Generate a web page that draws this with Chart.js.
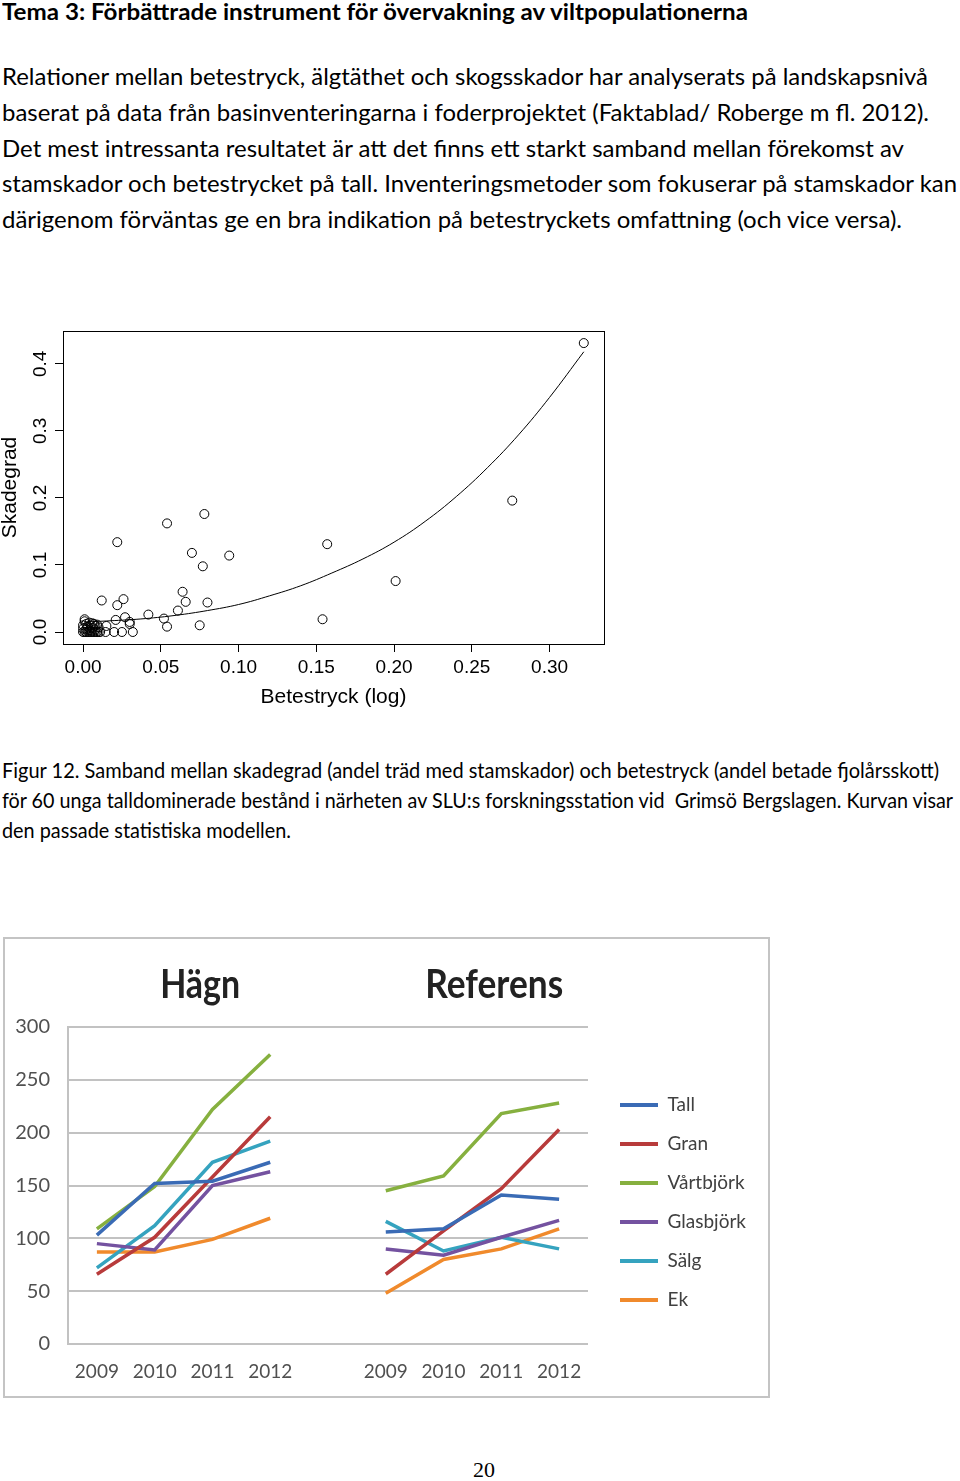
<!DOCTYPE html>
<html><head><meta charset="utf-8">
<script src="https://cdn.jsdelivr.net/npm/chart.js@4/dist/chart.umd.min.js"></script>
<style>
html,body{margin:0;padding:0;background:#fff;}
body{width:960px;height:1481px;position:relative;overflow:hidden;font-family:Lato,"Open Sans",sans-serif;color:#000;}
.ln{position:absolute;white-space:nowrap;line-height:1;transform-origin:0 50%;}
.t{font-weight:bold;font-size:22px;}
.b{font-size:24px;}
.c{font-size:21px;}
.h{font-weight:bold;font-size:40px;color:#222;transform-origin:50% 50%;}
#sc{position:absolute;left:0;top:320px;}
#frame{position:absolute;left:3px;top:937px;width:767px;height:461px;box-sizing:border-box;border:2px solid #c4c4c4;}
#lc{position:absolute;left:0;top:0;}
#pg{position:absolute;left:4px;width:960px;top:1459px;text-align:center;font-family:"Liberation Serif",serif;font-size:22px;line-height:1;}
</style></head><body>
<div class="ln t" style="left:2px;top:1px" data-w="746">Tema 3: Förbättrade instrument för övervakning av viltpopulationerna</div>
<div class="ln b" style="left:2px;top:64px" data-w="926">Relationer mellan betestryck, älgtäthet och skogsskador har analyserats på landskapsnivå</div>
<div class="ln b" style="left:2px;top:100px" data-w="927">baserat på data från basinventeringarna i foderprojektet (Faktablad/ Roberge m fl. 2012).</div>
<div class="ln b" style="left:2px;top:136px" data-w="902">Det mest intressanta resultatet är att det finns ett starkt samband mellan förekomst av</div>
<div class="ln b" style="left:2px;top:171px" data-w="955">stamskador och betestrycket på tall. Inventeringsmetoder som fokuserar på stamskador kan</div>
<div class="ln b" style="left:2px;top:207px" data-w="900">därigenom förväntas ge en bra indikation på betestryckets omfattning (och vice versa).</div>

<canvas id="sc" width="620" height="400"></canvas>

<div class="ln c" style="left:2px;top:759px" data-w="937">Figur 12. Samband mellan skadegrad (andel träd med stamskador) och betestryck (andel betade fjolårsskott)</div>
<div class="ln c" style="left:2px;top:789px" data-w="951">för 60 unga talldominerade bestånd i närheten av SLU:s forskningsstation vid&nbsp; Grimsö Bergslagen. Kurvan visar</div>
<div class="ln c" style="left:2px;top:819px" data-w="289">den passade statistiska modellen.</div>

<div id="frame"><canvas id="lc" width="763" height="457"></canvas></div>
<div class="ln h" data-cx="200" data-cy="985" data-w="80">Hägn</div>
<div class="ln h" data-cx="494" data-cy="985" data-w="138">Referens</div>

<div id="pg">20</div>

<script>
// ---------- Scatter chart data (Figur 12) ----------
const scatterX = [0.322,0.276,0.201,0.157,0.154,0.094,0.078,0.080,0.070,0.077,0.075,0.054,0.064,0.066,0.061,0.052,0.054,0.042,0.022,0.012,0.022,0.026,0.021,0.027,0.030,0.030,0.032,0.025,0.020,0.015,0.0145,
  0.000,0.001,0.002,0.003,0.004,0.005,0.006,0.007,0.008,0.009,0.010,0.011,
  0.000,0.001,0.001,0.002,0.003,0.004,0.005,0.006,0.007,0.008,0.009,0.010,0.000,0.002,0.004,0.006,0.008];
const scatterY = [0.431,0.196,0.076,0.131,0.019,0.114,0.176,0.044,0.118,0.098,0.010,0.162,0.060,0.045,0.032,0.020,0.008,0.026,0.134,0.047,0.040,0.049,0.018,0.022,0.015,0.012,0.000,0.000,0.000,0.009,0.000,
  0.000,0.000,0.000,0.000,0.000,0.000,0.000,0.000,0.000,0.000,0.000,0.000,
  0.005,0.019,0.016,0.012,0.008,0.014,0.010,0.006,0.012,0.009,0.011,0.007,0.010,0.004,0.003,0.013,0.004];
const curveX = [0.001,0.02,0.04,0.06,0.08,0.10,0.12,0.14,0.16,0.18,0.20,0.22,0.24,0.26,0.28,0.30,0.322];
const curveY = [0.015,0.017,0.020,0.025,0.032,0.041,0.054,0.069,0.088,0.109,0.134,0.165,0.202,0.245,0.294,0.350,0.418];
const xTickVals = [0,0.05,0.10,0.15,0.20,0.25,0.30];
const xTickLabels = ['0.00','0.05','0.10','0.15','0.20','0.25','0.30'];
const yTickVals = [0,0.1,0.2,0.3,0.4];
const yTickLabels = ['0.0','0.1','0.2','0.3','0.4'];

// ---------- Line chart data (Hägn / Referens) ----------
const years = ['2009','2010','2011','2012'];
const seriesNames = ['Tall','Gran','Vårtbjörk','Glasbjörk','Sälg','Ek'];
const tallHagn = [103,152,154,172],     tallRef = [106,109,141,137];
const granHagn = [66,101,158,215],      granRef = [66,107,147,203];
const vartHagn = [109,149,222,274],     vartRef = [145,159,218,228];
const glasHagn = [95,89,150,163],       glasRef = [90,84,101,117];
const salgHagn = [72,112,172,192],      salgRef = [116,88,101,90];
const ekHagn = [87,87,99,119],          ekRef = [48,80,90,109];
const yTicksLine = [0,50,100,150,200,250,300];
const seriesColors = ['#3a6bb5','#b83b3b','#86b03f','#7452a0','#35a3bf','#f08a2c'];

const categories = [...years, '', ...years];
const joinPanels = (h, r) => [...h, null, ...r];
const lineSeries = [
  joinPanels(tallHagn, tallRef), joinPanels(granHagn, granRef), joinPanels(vartHagn, vartRef),
  joinPanels(glasHagn, glasRef), joinPanels(salgHagn, salgRef), joinPanels(ekHagn, ekRef)
];

// ---------- Scatter chart ----------
const boxPlugin = {
  id:'box',
  afterDraw(chart){
    const {ctx, chartArea:a} = chart;
    ctx.save(); ctx.strokeStyle='#000'; ctx.lineWidth=1;
    ctx.strokeRect(Math.round(a.left)+0.5, Math.round(a.top)+0.5, Math.round(a.right-a.left), Math.round(a.bottom-a.top));
    const ys = chart.scales.y;
    ctx.fillStyle='#000'; ctx.font='19px "Liberation Sans", Arial, sans-serif';
    ctx.textAlign='center'; ctx.textBaseline='middle';
    yTickVals.forEach((v,i)=>{
      const py = ys.getPixelForValue(v);
      ctx.save(); ctx.translate(a.left-22, py); ctx.rotate(-Math.PI/2);
      ctx.fillText(yTickLabels[i], 0, 0); ctx.restore();
    });
    ctx.restore();
  }
};
new Chart(document.getElementById('sc'), {
  type:'scatter',
  data:{datasets:[
    {data: scatterX.map((x,i)=>({x, y:scatterY[i]})), pointStyle:'circle', pointRadius:4.5, borderColor:'#000', borderWidth:1, backgroundColor:'rgba(0,0,0,0)', showLine:false},
    {data: curveX.map((x,i)=>({x, y:curveY[i]})), showLine:true, pointRadius:0, borderColor:'#000', borderWidth:1, tension:0.4, fill:false}
  ]},
  options:{
    responsive:false, animation:false, events:[],
    layout:{padding:{top:11,right:16,left:0,bottom:0}},
    plugins:{legend:{display:false}, tooltip:{enabled:false}},
    scales:{
      x:{type:'linear', min:-0.0129, max:0.335,
         afterBuildTicks: s=>{ s.ticks = xTickVals.map(v=>({value:v})); },
         afterFit: s=>{ s.height = 76; },
         grid:{drawOnChartArea:false, drawTicks:true, tickLength:8, color:'#000', lineWidth:1},
         border:{display:false},
         ticks:{callback:(v,i)=>xTickLabels[i], font:{family:'"Liberation Sans", Arial', size:19}, color:'#000', padding:4, maxRotation:0, minRotation:0, autoSkip:false},
         title:{display:true, text:'Betestryck (log)', font:{family:'"Liberation Sans", Arial', size:21}, color:'#000', padding:{top:0,bottom:10}}
      },
      y:{type:'linear', min:-0.0179, max:0.449,
         afterBuildTicks: s=>{ s.ticks = yTickVals.map(v=>({value:v})); },
         afterFit: s=>{ s.width = 63; },
         grid:{drawOnChartArea:false, drawTicks:true, tickLength:8, color:'#000', lineWidth:1},
         border:{display:false},
         ticks:{display:false},
         title:{display:true, text:'Skadegrad', font:{family:'"Liberation Sans", Arial', size:21, lineHeight:1}, color:'#000', padding:0}
      }
    }
  },
  plugins:[boxPlugin]
});

// ---------- Line chart ----------
const legendPlace = {
  id:'legendPlace',
  beforeLayout(chart){
    const lg = chart.legend;
    if (lg && !lg._fixedW){
      const f = lg.fit;
      lg.fit = function(){ f.call(this); this.width = 180; };
      lg._fixedW = true;
    }
  },
  afterLayout(chart){
    const lg = chart.legend;
    if (lg){ lg.left += 12; lg.right += 12; lg.top -= 9; lg.bottom -= 9; }
  }
};
new Chart(document.getElementById('lc'), {
  type:'line',
  data:{labels:categories, datasets: seriesNames.map((n,i)=>({
    label:n, data:lineSeries[i], borderColor:seriesColors[i], backgroundColor:seriesColors[i],
    borderWidth:3.5, pointRadius:0, tension:0, spanGaps:false, fill:false
  }))},
  options:{
    responsive:false, animation:false, events:[],
    layout:{padding:{top:88,left:0,right:0,bottom:0}},
    plugins:{
      tooltip:{enabled:false},
      legend:{position:'right', align:'center',
        labels:{boxWidth:38, boxHeight:4, padding:20, color:'#404040', font:{family:'Lato', size:19},
          generateLabels:(chart)=>Chart.defaults.plugins.legend.labels.generateLabels(chart).map(l=>({...l, lineWidth:0}))}
      }
    },
    scales:{
      x:{offset:true, grid:{display:false}, border:{display:false},
         afterFit: s=>{ s.height = 52; },
         ticks:{color:'#505050', font:{family:'Lato', size:19}, padding:8, maxRotation:0, minRotation:0, autoSkip:false}},
      y:{min:0, max:300,
         afterBuildTicks: s=>{ s.ticks = yTicksLine.map(v=>({value:v})); },
         afterFit: s=>{ s.width = 63; },
         grid:{color:'#c2c2c2', lineWidth:2, drawTicks:false},
         border:{display:true, color:'#c2c2c2', width:2},
         ticks:{color:'#505050', font:{family:'Lato', size:20}, padding:18}}
    }
  },
  plugins:[legendPlace]
});

// ---------- fit text line widths ----------
function fitLines(){
  document.querySelectorAll('.ln').forEach(el=>{
    el.style.transform='none';
    const w = el.getBoundingClientRect().width;
    const target = +el.dataset.w;
    const s = target / w;
    if (el.dataset.cx){
      const h = el.getBoundingClientRect().height;
      el.style.left = (+el.dataset.cx - w/2) + 'px';
      el.style.top = (+el.dataset.cy - h*0.55) + 'px';
    }
    el.style.transform = 'scaleX(' + s + ')';
  });
}
fitLines();
if (document.fonts && document.fonts.ready) document.fonts.ready.then(fitLines);
</script>
</body></html>
